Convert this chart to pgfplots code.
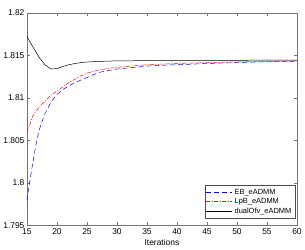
\documentclass[border=0pt]{standalone}
\usepackage{pgfplots}
\pgfplotsset{compat=1.18}
\usepackage{fontspec}
\setmainfont{Liberation Sans}
\begin{document}
\begin{tikzpicture}
\begin{axis}[
  name=ax,
  scale only axis, width=271bp, height=213bp,
  xmin=15, xmax=60, ymin=1.795, ymax=1.82,
  xtick={15,20,...,60},
  ytick={1.795,1.8,1.805,1.81,1.815,1.82},
  yticklabels={1.795,1.8,1.805,1.81,1.815,1.82},
  scaled y ticks=false,
  tick align=inside,
  major tick length=3bp,
  /pgf/number format/assume math mode=true,
  ticklabel style={font=\fontsize{8.5}{10}\selectfont},
  yticklabel style={xshift=1bp},
  axis line style={black!55},
  tick style={black!55},
  xlabel={Iterations},
  xlabel style={font=\fontsize{8.5}{10}\selectfont, yshift=2bp},
  legend style={at={(1,0)}, anchor=south east, xshift=-2bp, yshift=7bp,
    font=\fontsize{7.5}{8.5}\selectfont, draw=black!70, inner sep=1.5pt,
    row sep=-1.2pt, cells={anchor=west}},
  legend image code/.code={\draw[#1] (0bp,0bp) -- (26bp,0bp);},
  clip=true,
]
\addplot[blue, line width=0.5pt, dash pattern=on 5bp off 3bp] coordinates {
(15,1.7979) (15.5,1.8003) (16,1.8024) (16.5,1.8045) (17,1.8061) (17.5,1.8072)
(18,1.8081) (19,1.8095) (20,1.8104) (21,1.8110) (22,1.8114) (23,1.8118)
(24,1.8121) (25,1.8124) (27,1.8130) (30,1.8134) (33,1.8136) (36,1.8138)
(40,1.8139) (47,1.8141) (55,1.81425) (60,1.8143)
};
\addlegendentry{EB\_eADMM}
\addplot[red, line width=0.5pt, dash pattern=on 4bp off 1.5bp on 1bp off 1.5bp] coordinates {
(15,1.8059) (16,1.8079) (17,1.8089) (18,1.8096) (19,1.8103) (20,1.8108)
(21,1.8113) (22,1.8118) (23,1.8122) (24,1.8126) (25,1.8129) (27,1.8133)
(30,1.8136) (35,1.8139) (40,1.81405) (47,1.8142) (60,1.81435)
};
\addlegendentry{LpB\_eADMM}
\addplot[black, line width=0.5pt] coordinates {
(15,1.8172) (16,1.8160) (17,1.8148) (18,1.8139) (19,1.81340) (20,1.81345)
(21,1.8137) (22,1.8139) (23,1.81405) (24,1.81415) (25,1.81422) (28,1.81432)
(30,1.81436) (40,1.8144) (60,1.81445)
};
\addlegendentry{dualOfv\_eADMM}
\node[anchor=south west, inner sep=0pt, font=\fontsize{6.5}{7}\selectfont, yshift=2bp]
  at (rel axis cs:0,1) {$\times$10\textsuperscript{5}};
\end{axis}
\path (ax.north west) ++(0,13bp) -- (ax.north east);
\end{tikzpicture}
\end{document}
